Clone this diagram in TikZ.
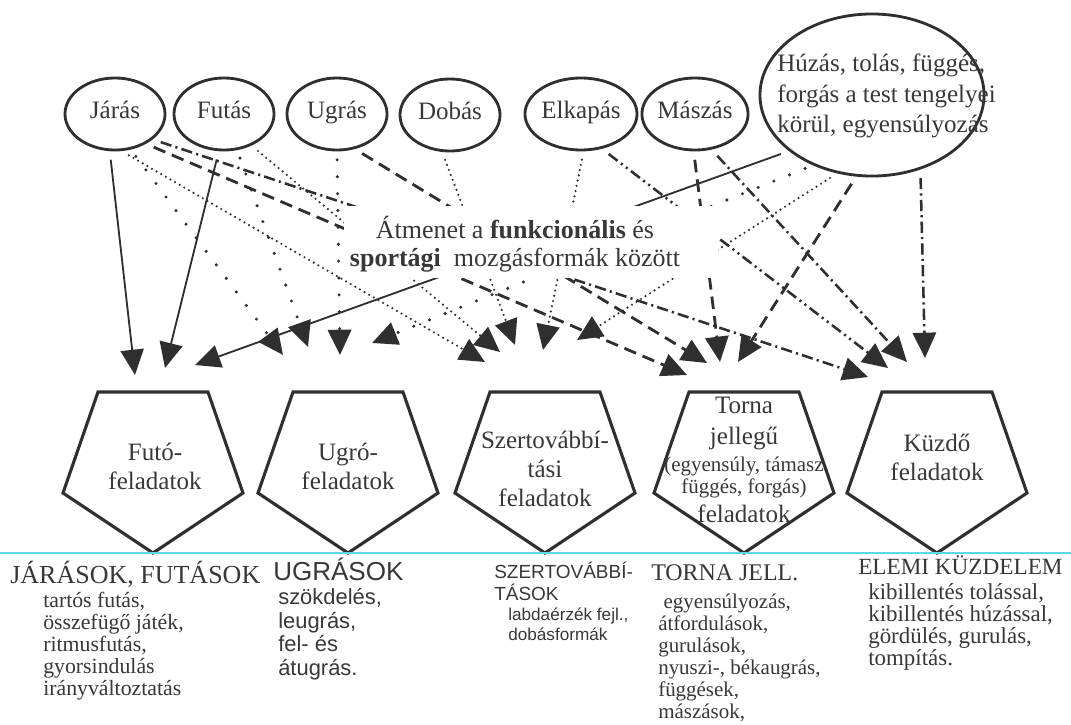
\documentclass[tikz,border=0pt]{standalone}
\usepackage{fontspec}
\setmainfont{Liberation Serif}
\setsansfont{Liberation Sans}
\usetikzlibrary{arrows.meta,shapes.geometric}
\definecolor{ink}{HTML}{2F2F2F}
\definecolor{txt}{HTML}{383838}
\definecolor{cyanline}{HTML}{5ED8E0}
\begin{document}
\begin{tikzpicture}[x=0.025cm,y=-0.025cm,
  every node/.style={text=txt},
  oval/.style={draw=ink, line width=2pt, ellipse, inner sep=0pt, text height=11pt, text depth=5pt, font=\fontsize{17.8}{20}\selectfont},
  pentline/.style={draw=ink, line width=2.2pt, line join=miter},
  ptext/.style={align=center, inner sep=0pt, font=\fontsize{17.8}{20.5}\selectfont},
  con/.style={draw=ink, -{Triangle[length=18pt,width=16.5pt]}, shorten <=6pt},
  solidc/.style={con, line width=1.3pt},
  dotc/.style={con, line width=1.7pt, line cap=round, dash pattern=on 0pt off 3.8pt},
  sparsec/.style={con, line width=2.4pt, line cap=round, dash pattern=on 0pt off 12pt},
  dashc/.style={con, line width=2pt, dash pattern=on 9pt off 5pt},
  dashdotc/.style={con, line width=1.8pt, dash pattern=on 8pt off 3pt on 1.5pt off 3pt},
  dashddc/.style={con, line width=1.8pt, dash pattern=on 8pt off 3pt on 1.5pt off 3pt on 1.5pt off 3pt},
  headserif/.style={anchor=base west, inner sep=0pt, font=\fontsize{18.5}{20}\selectfont},
  headsans/.style={inner sep=0pt, font=\sffamily\fontsize{18.5}{20}\selectfont},
  listserif/.style={anchor=north west, align=left, inner sep=0pt, font=\fontsize{15.5}{15.6}\selectfont},
  listsans/.style={anchor=north west, align=left, inner sep=0pt, font=\sffamily\fontsize{15.6}{16.8}\selectfont}
]
\path[fill=white, use as bounding box] (0,0) rectangle (1071,724);

% source ellipses
\node[oval, minimum width=2.5cm, minimum height=1.8cm] (jaras) at (115,114) {Járás};
\node[oval, minimum width=2.5cm, minimum height=1.8cm] (futas) at (224,114) {Futás};
\node[oval, minimum width=2.5cm, minimum height=1.8cm] (ugras) at (337,114) {Ugrás};
\node[oval, minimum width=2.5cm, minimum height=1.8cm] (dobas) at (450,115) {Dobás};
\node[oval, minimum width=2.4cm, minimum height=1.8cm] (elkapas) at (581,114) {Elkapás};
\node[oval, minimum width=2.4cm, minimum height=1.8cm] (maszas) at (695,114) {Mászás};
\node[oval, minimum width=5.6cm, minimum height=4.05cm] (big) at (872,95) {};
\node[anchor=west, align=left, inner sep=0pt, font=\fontsize{17.8}{21.5}\selectfont] (bigtxt) at (777,96)
  {Húzás, tolás, függés,\\forgás a test tengelyei\\körül, egyensúlyozás};

% target pentagons
\foreach \cx in {153,348,545,744,937}
  \draw[pentline] ({\cx-55},392) -- ({\cx+55},392) -- ({\cx+90},493) -- (\cx,553) -- ({\cx-90},493) -- cycle;
\node[ptext] (fut) at (155,466) {Futó-\\feladatok};
\node[ptext] (ugr) at (348,466) {Ugró-\\feladatok};
\node[ptext] (sze) at (545,469) {Szertovábbí-\\tási\\feladatok};
\node[ptext] (tor) at (744,460) {Torna\\[1.3pt]jellegű\\[-1.5pt]{\fontsize{14.9}{16}\selectfont(egyensúly, támasz}\\[-4.4pt]{\fontsize{14.9}{16}\selectfont függés, forgás)}\\[-0.1pt]feladatok};
\node[ptext] (kuz) at (937,457) {Küzdő\\feladatok};

% arrow tips
\coordinate (f1) at (135,375);
\coordinate (f2) at (165,368);
\coordinate (f3) at (195,365);
\coordinate (u1) at (283,355);
\coordinate (u2) at (308,347);
\coordinate (u3) at (340,355);
\coordinate (u4) at (372,343);
\coordinate (s1) at (485,362);
\coordinate (s2) at (500,352);
\coordinate (s3) at (515,345);
\coordinate (s4) at (543,350);
\coordinate (s5) at (577,340);
\coordinate (t1) at (687,375);
\coordinate (t2) at (707,363);
\coordinate (t3) at (720,362);
\coordinate (t4) at (738,362);
\coordinate (k1) at (868,377);
\coordinate (k2) at (888,368);
\coordinate (k3) at (907,362);
\coordinate (k4) at (925,358);

% connectors
\draw[solidc] (jaras.-98) -- (f1);
\draw[solidc] (futas.-98) -- (f2);
\draw[solidc] (big.-146) -- (f3);
\draw[sparsec] (jaras.-66) -- (u1);
\draw[sparsec] (futas.-70) -- (u2);
\draw[sparsec] (ugras.-90) -- (u3);
\draw[sparsec] (big.-130) -- (u4);
\draw[dotc] (jaras.-80) -- (s1);
\draw[dotc] (futas.-49) -- (s2);
\draw[dotc] (dobas.-102) -- (s3);
\draw[dotc] (elkapas.-86) -- (s4);
\draw[dotc] (big.-114) -- (s5);
\draw[dashc] (jaras.-44) -- (t1);
\draw[dashc] (ugras.-63) -- (t2);
\draw[dashc] (maszas.-92) -- (t3);
\draw[dashc] (big.-101) -- (t4);
\draw[dashdotc] (jaras.-34) -- (k1);
\draw[dashddc] (elkapas.-59) -- (k2);
\draw[dashdotc] (maszas.-65) -- (k3);
\draw[dashdotc] (big.-57) -- (k4);

% central label over the crossing lines
\node[fill=white, inner sep=0pt, minimum width=9.35cm, minimum height=1.78cm] (mask) at (531,242) {};
\node[align=center, inner sep=0pt, font=\fontsize{18.5}{20}\selectfont] (atm) at (515,244)
  {Átmenet a \textbf{funkcionális} és\\\textbf{sportági}\ \ mozgásformák között};

% cyan rule
\draw[cyanline, line width=1pt] (0,553) -- (1071,553);

% lists
\node[headserif] (h1) at (10,583) {JÁRÁSOK, FUTÁSOK};
\node[listserif] (l1) at (43,592) {tartós futás,\\összefügő játék,\\ritmusfutás,\\gyorsindulás\\irányváltoztatás};
\node[headsans, anchor=base west] (h2) at (273,580) {UGRÁSOK};
\node[listsans] (l2) at (278,588) {szökdelés,\\leugrás,\\fel- és\\átugrás.};
\node[headsans, anchor=north west, align=left, font=\sffamily\fontsize{13.5}{15.6}\selectfont] (h3) at (494,562) {SZERTOVÁBBÍ-\\TÁSOK};
\node[listsans, font=\sffamily\fontsize{12.2}{14}\selectfont] (l3) at (508,608) {labdaérzék fejl.,\\dobásformák};
\node[headserif, font=\fontsize{17}{20}\selectfont] (h4) at (651,580) {TORNA JELL.};
\node[listserif, font=\fontsize{14.9}{15.6}\selectfont] (l4) at (658,594) {\ egyensúlyozás,\\átfordulások,\\gurulások,\\nyuszi-, békaugrás,\\függések,\\mászások,};
\node[headserif, font=\fontsize{16.5}{20}\selectfont] (h5) at (858,574) {ELEMI KÜZDELEM};
\node[listserif, font=\fontsize{16.3}{15.6}\selectfont] (l5) at (868,583) {kibillentés tolással,\\kibillentés húzással,\\gördülés, gurulás,\\tompítás.};
\end{tikzpicture}
\end{document}
